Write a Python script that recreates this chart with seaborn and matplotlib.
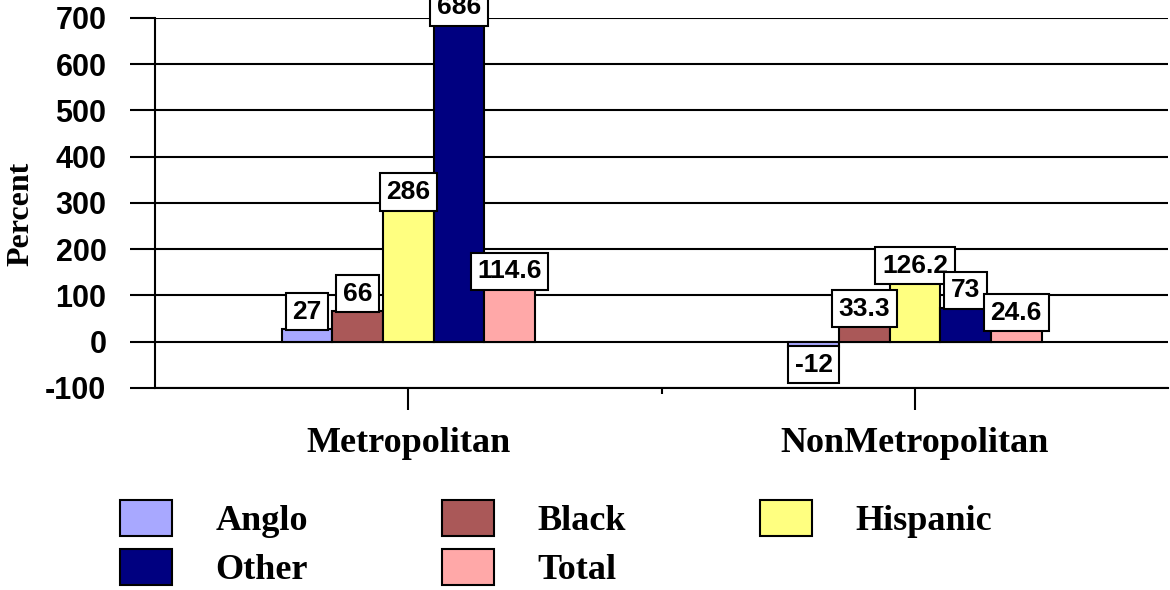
import matplotlib
matplotlib.use("Agg")
import matplotlib.pyplot as plt
import seaborn as sns
import pandas as pd
from matplotlib.patches import Patch
from matplotlib.ticker import FixedLocator

regions = ["Metropolitan", "NonMetropolitan"]
groups = ["Anglo", "Black", "Hispanic", "Other", "Total"]
metro_vals = [27, 66, 286, 686, 114.6]
nonmetro_vals = [-12, 33.3, 126.2, 73, 24.6]
colors = ["#A8A8FF", "#AA5858", "#FFFF80", "#000080", "#FFA8A8"]
yticks = [-100, 0, 100, 200, 300, 400, 500, 600, 700]

rows = []
for g, m, n in zip(groups, metro_vals, nonmetro_vals):
    rows.append({"Region": regions[0], "Group": g, "Percent": m})
    rows.append({"Region": regions[1], "Group": g, "Percent": n})
df = pd.DataFrame(rows)

sns.set_style("white")
plt.rcParams["font.family"] = ["Liberation Serif", "DejaVu Sans"]
plt.rcParams["text.color"] = "black"
plt.rcParams["axes.labelcolor"] = "black"
plt.rcParams["xtick.color"] = "black"
plt.rcParams["ytick.color"] = "black"

fig = plt.figure(figsize=(11.7, 5.9), dpi=100)
ax = fig.add_axes([0.1325, 0.3424, 0.866, 0.6271])

sns.barplot(data=df, x="Region", y="Percent", hue="Group", order=regions,
            hue_order=groups, palette=colors, width=0.5, edgecolor="black",
            linewidth=1.5, saturation=1, legend=False, ax=ax, zorder=3)

ax.set_ylim(-100, 700)
ax.set_xlim(-0.5, 1.5)
ax.set_yticks(yticks)
ax.set_yticklabels([str(t) for t in yticks], fontsize=22, fontweight="bold",
                   family="Liberation Sans")
ax.yaxis.grid(True, color="black", linewidth=1.5, zorder=0)
ax.set_axisbelow(True)
for s in ["top", "right"]:
    ax.spines[s].set_visible(False)
for s in ["left", "bottom"]:
    ax.spines[s].set_color("black")
    ax.spines[s].set_linewidth(1.5)
ax.tick_params(axis="y", length=18, width=1.5, color="black", pad=17, left=True,
               labelcolor="black")
ax.tick_params(axis="x", which="major", length=16, width=1.5, color="black", pad=12,
               bottom=True, labelsize=26, labelcolor="black")
ax.xaxis.set_minor_locator(FixedLocator([0.5]))
ax.tick_params(axis="x", which="minor", length=4, width=1.5, color="black", bottom=True)
for lab in ax.get_xticklabels():
    lab.set_fontweight("bold")
ax.set_xlabel("")
ax.set_ylabel("Percent", fontsize=23, fontweight="bold", color="black")
ax.yaxis.set_label_coords(-0.118, 0.47)

for cont in ax.containers:
    vals = list(cont.datavalues)
    ax.bar_label(cont, labels=[f"{v:g}" for v in vals], padding=4,
                 fontsize=19, fontweight="bold", family="Liberation Sans", color="black",
                 bbox=dict(boxstyle="square,pad=0.25", fc="white", ec="black", lw=1.5),
                 zorder=5, clip_on=False)

handles = [Patch(facecolor=c, edgecolor="black", linewidth=1.5, label=g)
           for g, c in zip(groups, colors)]
order = [0, 3, 1, 4, 2]
leg = fig.legend([handles[i] for i in order], [groups[i] for i in order], ncol=3,
                 loc="upper left", bbox_to_anchor=(0.1026, 0.153), frameon=False,
                 prop={"size": 26, "weight": "bold", "family": "Liberation Serif"},
                 handlelength=1.44, handleheight=1.17, handletextpad=1.2,
                 columnspacing=3.72, labelspacing=0.3, borderpad=0, borderaxespad=0)

fig.savefig("out.png", dpi=100)
